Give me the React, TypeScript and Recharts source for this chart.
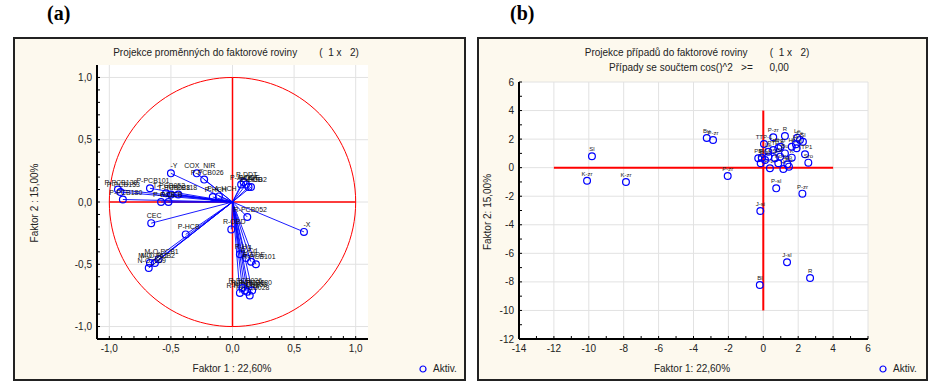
import React from 'react';
import {
  CartesianGrid,
  ReferenceLine,
  Scatter,
  ScatterChart,
  XAxis,
  YAxis,
} from 'recharts';

const FONT = '"Liberation Sans", Arial, sans-serif';

// panel (a): variables projected onto factor plane
const varLabels = [
  'P-PCB138', 'P-PCB153', 'P-PCB180', 'P-PCB101', 'T-PCB052', 'T-PCB028',
  'T-PCB118', 'P-OCS', 'P-QCB', '-Y', 'COX_NIR', 'P-PCB026', 'P-HCH',
  'P-A-HCH', 'CEC', 'P-HCB', 'M-O-PCB1', 'M-O-PCB2', 'M-O_061', 'N-O_069',
  'P-A-DDT', 'P-DDT', 'P-DDE', 'P-DDD', 'P-HCB2', 'R-PCB052', 'R-OBD', '-X',
  'R-Hg', 'R-Cd', 'R-DDE', 'R-PCB101', 'R-PCB118', 'R-PCB138', 'R-PCB153',
  'R-PCB180', 'R-PCB028', 'R-PCB026',
];
const varF1 = [
  -0.93, -0.91, -0.89, -0.67, -0.54, -0.5, -0.44, -0.58, -0.52, -0.5, -0.29,
  -0.23, -0.16, -0.11, -0.66, -0.38, -0.6, -0.63, -0.67, -0.68, 0.07, 0.09,
  0.11, 0.13, 0.15, 0.12, -0.01, 0.58, 0.06, 0.11, 0.15, 0.19, 0.06, 0.1,
  0.12, 0.16, 0.14, 0.08,
];
const varF2 = [
  0.1, 0.08, 0.02, 0.11, 0.07, 0.06, 0.06, 0.0, 0.0, 0.23, 0.23, 0.18, 0.04,
  0.045, -0.17, -0.26, -0.46, -0.49, -0.49, -0.53, 0.14, 0.16, 0.14, 0.12,
  0.12, -0.12, -0.22, -0.24, -0.42, -0.45, -0.48, -0.5, -0.73, -0.71, -0.72,
  -0.71, -0.75, -0.69,
];

// panel (b): cases projected onto factor plane
const caseLabels = [
  'Sl', 'K-zr', 'K-zr', 'Bu', 'P-zr', 'P-zr', 'J-si', 'Bl', 'J-sl', 'R',
  'P-sl', 'P-zr', 'P-zr', 'R', 'TTP-1', 'Le', 'Le', 'Sl', 'K-si', 'TTP1',
  'Sro', 'K', 'Bu', 'Hr', 'P-zr', 'Pi', 'PB', 'Pi', 'Le', 'PTE', 'PTE',
  'K-zr', 'Bu', 'Sl', 'Sl', 'Lo', 'Hr', 'Hr', 'P-sl', 'Ko', 'Sro',
];
const caseF1 = [
  -9.82, -10.1, -7.87, -3.24, -2.88, -2.04, -0.17, -0.2, 1.36, 2.68, 0.74,
  2.24, 0.57, 1.24, 0.04, 1.95, 2.1, 2.27, 1.91, 2.39, 2.58, 1.63, 1.47,
  1.15, 0.38, -0.15, -0.29, -0.09, 0.29, 0.57, 0.86, 0.99, 1.24, 0.96, 0.67,
  0.29, 1.63, 1.87, 0.1, 0.86, 1.38,
];
const caseF2 = [
  0.8, -0.92, -1.0, 2.08, 1.94, -0.58, -3.03, -8.22, -6.63, -7.73, -1.45,
  -1.82, 2.13, 2.22, 1.66, 2.1, 1.94, 1.82, 1.36, 0.94, 0.35, 0.7, 0.07,
  -0.09, -0.04, 0.31, 0.66, 0.7, 1.12, 1.24, 1.36, 1.47, 1.0, 0.77, 0.66,
  0.77, 1.47, 1.64, 0.54, 0.31, 0.24,
];

// ticks
const ticksA = [
  -1, -0.9, -0.8, -0.7, -0.6, -0.5, -0.4, -0.3, -0.2, -0.1, 0, 0.1, 0.2, 0.3,
  0.4, 0.5, 0.6, 0.7, 0.8, 0.9, 1,
];
const majorA = [-1, -0.5, 0, 0.5, 1];
const ticksBx = [-14, -13, -12, -11, -10, -9, -8, -7, -6, -5, -4, -3, -2, -1, 0, 1, 2, 3, 4, 5, 6];
const majorBx = [-14, -12, -10, -8, -6, -4, -2, 0, 2, 4, 6];
const ticksBy = [-12, -11, -10, -9, -8, -7, -6, -5, -4, -3, -2, -1, 0, 1, 2, 3, 4, 5, 6];
const majorBy = [-12, -10, -8, -6, -4, -2, 0, 2, 4, 6];

const varData = varLabels.map((name, i) => ({ name, x: varF1[i], y: varF2[i] }));
const caseData = caseLabels.map((name, i) => ({ name, x: caseF1[i], y: caseF2[i] }));

// unit correlation circle (geometry, not data)
const unitCircle = Array.from({ length: 121 }, (_, i) => {
  const t = (i / 120) * Math.PI * 2;
  return { x: Math.cos(t), y: Math.sin(t) };
});

const isIn = (list: number[], v: number) => list.some(m => Math.abs(m - v) < 1e-6);
const fmtA = (v: number) => (isIn(majorA, v) ? v.toFixed(1).replace('.', ',') : '');
const fmtBx = (v: number) => (isIn(majorBx, v) ? String(v) : '');
const fmtBy = (v: number) => (isIn(majorBy, v) ? String(v) : '');
const blank = () => '';

const tickStyle = { fill: '#222', fontSize: 10, fontFamily: FONT };
const axisLine = { stroke: '#000', strokeWidth: 2 };

const VarDot = (props: any) => {
  const { cx, cy, payload } = props;
  return (
    <g>
      <circle cx={cx} cy={cy} r={3.4} fill="none" stroke="#0000ff" strokeWidth={1.2} />
      <text x={cx + 3} y={cy - 5} fontSize={7} fontFamily={FONT} fill="#111" textAnchor="middle">
        {payload.name}
      </text>
    </g>
  );
};

const CaseDot = (props: any) => {
  const { cx, cy, payload } = props;
  return (
    <g>
      <circle cx={cx} cy={cy} r={3.4} fill="none" stroke="#0000ff" strokeWidth={1.2} />
      <text x={cx} y={cy - 5} fontSize={6} fontFamily={FONT} fill="#222" textAnchor="middle">
        {payload.name}
      </text>
    </g>
  );
};

const Txt: React.FC<{ x: number; y: number; rotate?: boolean; size?: number; children: React.ReactNode }> = ({
  x,
  y,
  rotate,
  size = 10,
  children,
}) => (
  <div
    style={{
      position: 'absolute',
      left: x,
      top: y,
      transform: `translate(-50%, -50%)${rotate ? ' rotate(-90deg)' : ''}`,
      fontFamily: FONT,
      fontSize: size,
      color: '#222',
      whiteSpace: 'pre',
      lineHeight: '12px',
    }}
  >
    {children}
  </div>
);

const Legend: React.FC<{ x: number; y: number }> = ({ x, y }) => (
  <div style={{ position: 'absolute', left: x, top: y - 6, fontFamily: FONT, fontSize: 10, color: '#222', lineHeight: '12px' }}>
    <svg width={8} height={8} style={{ position: 'absolute', left: -4, top: 2 }}>
      <circle cx={4} cy={4} r={3} fill="none" stroke="#0000ff" strokeWidth={1.2} />
    </svg>
    <span style={{ position: 'absolute', left: 10, top: 0 }}>Aktiv.</span>
  </div>
);

const frame = (left: number, width: number): React.CSSProperties => ({
  position: 'absolute',
  left,
  top: 37,
  width,
  height: 344,
  boxSizing: 'border-box',
  border: '2px solid #222',
  background: '#fdf9ee',
});

export default function App() {
  return (
    <div style={{ position: 'absolute', left: 0, top: 0, width: 941, height: 387, background: '#fff', overflow: 'hidden' }}>
      <div style={{ position: 'absolute', left: 47, top: 2, fontFamily: '"Liberation Serif", serif', fontWeight: 'bold', fontSize: 20 }}>(a)</div>
      <div style={{ position: 'absolute', left: 510, top: 2, fontFamily: '"Liberation Serif", serif', fontWeight: 'bold', fontSize: 20 }}>(b)</div>

      <div style={frame(13, 453)} />
      <div style={frame(477, 451)} />

      <Txt x={236} y={53}>{'Projekce proměnných do faktorové roviny        (  1 x   2)'}</Txt>
      <Txt x={697} y={53}>{'Projekce případů do faktorové roviny        (  1 x   2)'}</Txt>
      <Txt x={699} y={68}>{'Případy se součtem cos()^2   >=      0,00'}</Txt>

      <Txt x={35} y={203} rotate>{'Faktor 2 : 15,00%'}</Txt>
      <Txt x={488} y={212} rotate>{'Faktor 2: 15,00%'}</Txt>
      <Txt x={232} y={369}>{'Faktor 1 : 22,60%'}</Txt>
      <Txt x={692} y={369}>{'Faktor 1: 22,60%'}</Txt>
      <Legend x={423} y={369} />
      <Legend x={883} y={369} />

      {/* panel (a) */}
      <div style={{ position: 'absolute', left: 13, top: 37 }}>
        <ScatterChart width={452} height={343} margin={{ top: 28, right: 97, bottom: 21, left: 44 }}>
          <CartesianGrid fill="#fff" horizontal={false} vertical={false} />
          {majorA.map(v => (
            <ReferenceLine key={`gx${v}`} x={v} stroke="#e2e2e2" strokeWidth={1} />
          ))}
          {majorA.map(v => (
            <ReferenceLine key={`gy${v}`} y={v} stroke="#e2e2e2" strokeWidth={1} />
          ))}
          <XAxis
            type="number"
            dataKey="x"
            domain={[-1.1, 1.1]}
            allowDataOverflow
            ticks={ticksA}
            interval={0}
            tickFormatter={fmtA}
            height={20}
            tickSize={-3}
            tickMargin={9}
            axisLine={axisLine}
            tickLine={{ stroke: '#000' }}
            tick={tickStyle}
          />
          <XAxis
            xAxisId="top"
            orientation="top"
            type="number"
            domain={[-1.1, 1.1]}
            allowDataOverflow
            ticks={ticksA}
            interval={0}
            tickFormatter={blank}
            height={0}
            tickSize={-3}
            axisLine={axisLine}
            tickLine={{ stroke: '#000' }}
          />
          <YAxis
            type="number"
            dataKey="y"
            domain={[-1.1, 1.1]}
            allowDataOverflow
            ticks={ticksA}
            interval={0}
            tickFormatter={fmtA}
            width={40}
            tickSize={-3}
            tickMargin={8}
            axisLine={axisLine}
            tickLine={{ stroke: '#000' }}
            tick={tickStyle}
          />
          <YAxis
            yAxisId="right"
            orientation="right"
            type="number"
            domain={[-1.1, 1.1]}
            allowDataOverflow
            ticks={ticksA}
            interval={0}
            tickFormatter={blank}
            width={0}
            tickSize={-3}
            axisLine={axisLine}
            tickLine={{ stroke: '#000' }}
          />
          <ReferenceLine segment={[{ x: -1, y: 0 }, { x: 1, y: 0 }]} stroke="#ff0000" strokeWidth={1.5} />
          <ReferenceLine segment={[{ x: 0, y: -1 }, { x: 0, y: 1 }]} stroke="#ff0000" strokeWidth={1.5} />
          {varData.map(d => (
            <ReferenceLine
              key={`v${d.name}`}
              segment={[{ x: 0, y: 0 }, { x: d.x, y: d.y }]}
              stroke="#0000ff"
              strokeWidth={0.9}
            />
          ))}
          <Scatter
            data={unitCircle}
            line={{ stroke: '#ff0000', strokeWidth: 1 }}
            lineType="joint"
            shape={() => <g />}
            isAnimationActive={false}
            legendType="none"
          />
          <Scatter data={varData} shape={VarDot} isAnimationActive={false} name="Aktiv." />
        </ScatterChart>
      </div>

      {/* panel (b) */}
      <div style={{ position: 'absolute', left: 477, top: 37 }}>
        <ScatterChart width={450} height={343} margin={{ top: 45, right: 59, bottom: 21, left: 12 }}>
          <CartesianGrid fill="#fff" horizontal={false} vertical={false} />
          {majorBx.map(v => (
            <ReferenceLine key={`gx${v}`} x={v} stroke="#e2e2e2" strokeWidth={1} />
          ))}
          {majorBy.map(v => (
            <ReferenceLine key={`gy${v}`} y={v} stroke="#e2e2e2" strokeWidth={1} />
          ))}
          <XAxis
            type="number"
            dataKey="x"
            domain={[-14, 6]}
            allowDataOverflow
            ticks={ticksBx}
            interval={0}
            tickFormatter={fmtBx}
            height={20}
            tickSize={-3}
            tickMargin={9}
            axisLine={axisLine}
            tickLine={{ stroke: '#000' }}
            tick={tickStyle}
          />
          <XAxis
            xAxisId="top"
            orientation="top"
            type="number"
            domain={[-14, 6]}
            allowDataOverflow
            ticks={ticksBx}
            interval={0}
            tickFormatter={blank}
            height={0}
            tickSize={-3}
            axisLine={axisLine}
            tickLine={{ stroke: '#000' }}
          />
          <YAxis
            type="number"
            dataKey="y"
            domain={[-12, 6]}
            allowDataOverflow
            ticks={ticksBy}
            interval={0}
            tickFormatter={fmtBy}
            width={30}
            tickSize={-3}
            tickMargin={8}
            axisLine={axisLine}
            tickLine={{ stroke: '#000' }}
            tick={tickStyle}
          />
          <YAxis
            yAxisId="right"
            orientation="right"
            type="number"
            domain={[-12, 6]}
            allowDataOverflow
            ticks={ticksBy}
            interval={0}
            tickFormatter={blank}
            width={0}
            tickSize={-3}
            axisLine={axisLine}
            tickLine={{ stroke: '#000' }}
          />
          <ReferenceLine segment={[{ x: -12, y: 0 }, { x: 4, y: 0 }]} stroke="#ff0000" strokeWidth={2} />
          <ReferenceLine segment={[{ x: 0, y: -10 }, { x: 0, y: 4 }]} stroke="#ff0000" strokeWidth={2} />
          <Scatter data={caseData} shape={CaseDot} isAnimationActive={false} name="Aktiv." />
        </ScatterChart>
      </div>
    </div>
  );
}
